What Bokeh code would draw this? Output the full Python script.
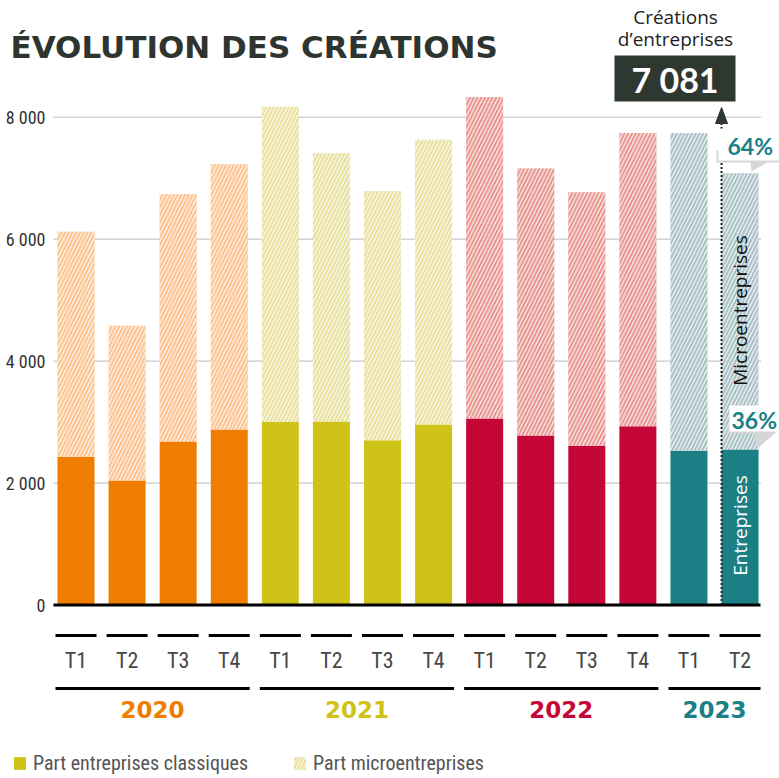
from math import pi
from bokeh.plotting import figure
from bokeh.models import Range1d, FixedTicker, Legend, LegendItem, ColumnDataSource
from bokeh.embed import file_html
from bokeh.resources import INLINE
from bokeh.core.properties import value

# ---------------- data ----------------
years = ["2020", "2021", "2022", "2023"]
quarters = ["T1", "T2", "T3", "T4", "T1", "T2", "T3", "T4",
            "T1", "T2", "T3", "T4", "T1", "T2"]
bar_year = ["2020"] * 4 + ["2021"] * 4 + ["2022"] * 4 + ["2023"] * 2
entreprises = [2430, 2040, 2680, 2880, 3000, 3010, 2700, 2960,
               3060, 2780, 2610, 2930, 2530, 2549]
microentreprises = [3690, 2540, 4060, 4350, 5170, 4400, 4090, 4670,
                    5270, 4380, 4160, 4810, 5210, 4532]
y_ticks = [0, 2000, 4000, 6000, 8000]
y_tick_labels = ["0", "2 000", "4 000", "6 000", "8 000"]
last_total_text = "7 081"
share_micro = "64%"
share_classic = "36%"

solid_colors = {"2020": "#EE7D00", "2021": "#CFC31A", "2022": "#C50737", "2023": "#1B7F86"}
light_colors = {"2020": "#FDC08A", "2021": "#E8DE98", "2022": "#E8928C", "2023": "#A6BFC3"}

# ---------------- geometry (canvas pixels) ----------------
W, H = 779, 778
BAR0, STEP = 75.5, 51.08
ZERO_PY, PPU = 604.5, 487.8 / 8000.0


def X(px):
    return (px - BAR0) / STEP


def Y(py):
    return (ZERO_PY - py) / PPU


def DX(px):
    return px / STEP


CONDENSED = "Roboto Condensed, DejaVu Sans Condensed, Liberation Sans Narrow, Roboto"

p = figure(width=W, height=H, output_backend="svg", toolbar_location=None,
           x_range=Range1d(X(0), X(W)), y_range=Range1d(Y(H), Y(0)),
           x_axis_location=None, min_border=0)
p.outline_line_color = None
p.xgrid.visible = False
p.ygrid.visible = False

ax = p.yaxis[0]
ax.fixed_location = X(53)
ax.ticker = FixedTicker(ticks=y_ticks)
ax.major_label_overrides = dict(zip(y_ticks, y_tick_labels))
ax.axis_line_color = None
ax.major_tick_line_color = None
ax.minor_tick_line_color = None
ax.major_tick_out = 0
ax.major_tick_in = 0
ax.major_label_standoff = 8
ax.major_label_text_font = CONDENSED
ax.major_label_text_font_size = "18px"
ax.major_label_text_color = "#333333"

idx = list(range(len(quarters)))
totals = [a + b for a, b in zip(entreprises, microentreprises)]
src = ColumnDataSource(dict(
    x=idx, classic=entreprises, total=totals,
    solid=[solid_colors[y] for y in bar_year],
    light=[light_colors[y] for y in bar_year],
))

# grid lines
grid_vals = [t for t in y_ticks if t > 0]
p.segment(x0=[X(53)] * len(grid_vals), x1=[X(760)] * len(grid_vals), y0=grid_vals, y1=grid_vals,
          line_color="#7a7a7a", line_width=1, line_dash="1 1")

BW = 37 / STEP
r_solid = p.vbar(x="x", width=BW, bottom=0, top="classic", source=src,
                 fill_color="solid", line_color=None)
r_hatch = p.vbar(x="x", width=BW, bottom="classic", top="total", source=src,
                 fill_color="light", line_color=None, hatch_pattern="/",
                 hatch_color="white", hatch_scale=7.5, hatch_weight=1.2, hatch_alpha=0.95)

# baseline
p.segment(x0=[X(53)], x1=[X(760)], y0=[0], y1=[0], line_color="black", line_width=3)

# quarter dashes + labels
DW = DX(20.5)
p.segment(x0=[i - DW for i in idx], x1=[i + DW for i in idx], y0=[Y(635)] * len(idx),
          y1=[Y(635)] * len(idx), line_color="black", line_width=3)
p.text(x=idx, y=[Y(660)] * len(idx), text=quarters, text_align="center", text_baseline="middle",
       text_font=value(CONDENSED), text_font_size="22px", text_color="#474747")

# year lines + labels
for yr in years:
    ii = [i for i, b in enumerate(bar_year) if b == yr]
    p.segment(x0=[ii[0] - DW], x1=[ii[-1] + DW], y0=[Y(688)], y1=[Y(688)],
              line_color="black", line_width=3)
    p.text(x=[sum(ii) / len(ii)], y=[Y(709)], text=[yr], text_align="center",
           text_baseline="middle", text_font=value("DejaVu Sans"), text_font_style="bold",
           text_font_size="23px", text_color=solid_colors[yr])

# last bar annotations
last = idx[-1]
edge = last - BW / 2
p.segment(x0=[edge], x1=[edge], y0=[0], y1=[Y(123)], line_color="#222222",
          line_width=2, line_dash="2 2")
p.patch(x=[edge - DX(6), edge + DX(6), edge], y=[Y(123), Y(123), Y(107)],
        fill_color="#2f3731", line_color="#2f3731")

# total box
p.quad(left=[X(614)], right=[X(735)], top=[Y(55)], bottom=[Y(101)],
       fill_color="#2f3731", line_color=None)
p.text(x=[X(674.5)], y=[Y(79)], text=[last_total_text], text_align="center",
       text_baseline="middle", text_font=value("Lato"), text_font_style="bold",
       text_font_size="34px", text_color="white")
p.text(x=[X(675), X(675)], y=[Y(16), Y(38)], text=["Créations", "d’entreprises"],
       text_align="center", text_baseline="middle", text_font=value("Open Sans"),
       text_font_size="19px", text_color="#222222")

# rotated labels in last bar
p.text(x=[last], y=[Y(310)], text=["Microentreprises"], angle=pi / 2, text_align="center",
       text_baseline="middle", text_font=value("Open Sans"), text_font_size="19px",
       text_color="#111111")
p.text(x=[last], y=[Y(525)], text=["Entreprises"], angle=pi / 2, text_align="center",
       text_baseline="middle", text_font=value("Open Sans"), text_font_size="19px",
       text_color="white")

# callouts
SHADOW = "#d6d6d6"
TEAL = solid_colors["2023"]
p.patch(x=[X(v) for v in (716, 716, 750, 751, 767, 779, 779)],
        y=[Y(v) for v in (150, 162, 162, 171, 162, 162, 150)],
        fill_color=SHADOW, line_color=None)
p.quad(left=[X(718)], right=[X(779)], top=[Y(128)], bottom=[Y(160)],
       fill_color="white", line_color=None)
p.text(x=[X(727)], y=[Y(145)], text=[share_micro], text_align="left", text_baseline="middle",
       text_font=value("Lato"), text_font_style="bold", text_font_size="23px", text_color=TEAL)

p.patch(x=[X(v) for v in (727, 727, 754, 757, 779, 779)],
        y=[Y(v) for v in (424, 433, 433, 448, 429, 424)],
        fill_color=SHADOW, line_color=None)
p.quad(left=[X(729)], right=[X(779)], top=[Y(405)], bottom=[Y(431)],
       fill_color="white", line_color=None)
p.text(x=[X(731)], y=[Y(419)], text=[share_classic], text_align="left", text_baseline="middle",
       text_font=value("Lato"), text_font_style="bold", text_font_size="23px", text_color=TEAL)

# title
p.text(x=[X(10)], y=[Y(46)], text=["ÉVOLUTION DES CRÉATIONS"], text_baseline="middle",
       text_align="left", text_font=value("DejaVu Sans"), text_font_style="bold",
       text_font_size="31px", text_color="#2e3530")

# legend
legend = Legend(items=[
    LegendItem(label="Part entreprises classiques", renderers=[r_solid], index=4),
    LegendItem(label="Part microentreprises", renderers=[r_hatch], index=4),
], orientation="horizontal", location=(12, 3), padding=0, margin=0, spacing=44,
    glyph_width=15, glyph_height=16, label_standoff=6, label_text_font=CONDENSED,
    label_text_font_size="20px", label_text_color="#555555", border_line_color=None,
    background_fill_alpha=0)
p.add_layout(legend)

open("out.html", "w").write(file_html(p, INLINE))
